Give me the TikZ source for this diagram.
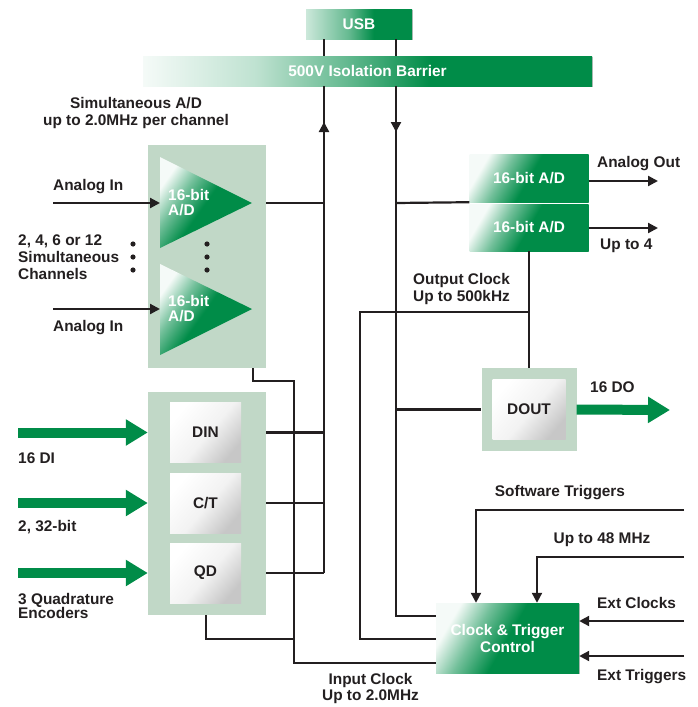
\documentclass[tikz,border=0pt]{standalone}
\usepackage{fontspec}
\setmainfont{Liberation Sans}
\usetikzlibrary{arrows.meta,shadows}
\definecolor{gg}{RGB}{0,140,72}
\definecolor{panel}{RGB}{193,216,199}
\definecolor{ink}{RGB}{35,31,32}
\colorlet{gA}{gg!4!white}
\colorlet{gB}{gg!55!white}
\colorlet{gC}{gg!25!white}
\colorlet{gD}{gg!60!white}
\colorlet{gU}{gg!20!white}
\colorlet{wA}{white}
\colorlet{wB}{white!95!black}
\colorlet{wC}{white!78!black}
\pgfdeclarehorizontalshading{gsh}{100bp}{color(0bp)=(gA); color(25bp)=(gA); color(37bp)=(gB); color(50bp)=(gg); color(100bp)=(gg)}
\pgfdeclarehorizontalshading{gbar}{100bp}{color(0bp)=(gA); color(25bp)=(gA); color(37.5bp)=(gC); color(47.5bp)=(gD); color(57bp)=(gg); color(100bp)=(gg)}
\pgfdeclarehorizontalshading{gusb}{100bp}{color(0bp)=(gU); color(25bp)=(gU); color(45bp)=(gD); color(57bp)=(gg); color(100bp)=(gg)}
\pgfdeclarehorizontalshading{wsh}{100bp}{color(0bp)=(wA); color(25bp)=(wA); color(52bp)=(wB); color(75bp)=(wC); color(100bp)=(wC)}
\tikzset{
  lbl/.style={font=\fontsize{15.4}{17}\selectfont\bfseries, text=ink, inner sep=0pt, align=left},
  wlbl/.style={font=\fontsize{15.4}{17}\selectfont\bfseries, text=white, inner sep=0pt, align=center},
  gbox/.style={shading=gsh, shading angle=-30, draw=none, inner sep=0pt,
    font=\fontsize{15.4}{17}\selectfont\bfseries, text=white, align=center,
    drop shadow={shadow xshift=0.8pt, shadow yshift=-1.3pt, fill=black, opacity=0.25}},
  gtri/.style={shading=gsh, shading angle=-35, draw=none},
  pbox/.style={fill=panel, draw=none, inner sep=0pt},
  wbox/.style={shading=wsh, shading angle=-40, draw=none, inner sep=0pt,
    font=\fontsize{15.4}{17}\selectfont\bfseries, text=ink},
  wire/.style={draw=ink, line width=2.2pt},
  arr/.style={draw=ink, line width=2.2pt, -{Triangle[length=10pt 0 0,width=10pt 0 0]}},
  fatarr/.style={draw=gg, line width=10pt, -{Triangle[length=22pt 0 0,width=25pt 0 0]}},
  dot/.style={fill=ink}
}
\begin{document}
\begin{tikzpicture}[x=1pt,y=-1pt]
\useasboundingbox (0,0) rectangle (698,707);

% ---------- blocks ----------
\node[gbox, shading=gusb, shading angle=0, minimum width=106pt, minimum height=30pt] (usb) at (359,24) {USB};
\node[gbox, shading=gbar, shading angle=0, minimum width=449pt, minimum height=30pt] (bar) at (367.5,71) {500V Isolation Barrier};

\node[pbox, minimum width=118pt, minimum height=223pt] (adp) at (207,256.5) {};
\node[pbox, minimum width=118pt, minimum height=223pt] (dip) at (207,503.5) {};

\path[gtri] (160,157) -- (160,248) -- (252,203) -- cycle;
\path[gtri] (160,264) -- (160,355) -- (252,309) -- cycle;
\node[wlbl, align=left, font=\fontsize{15.4}{15}\selectfont\bfseries, anchor=west] (ad1) at (168,203) {16-bit\\A/D};
\node[wlbl, align=left, font=\fontsize{15.4}{15}\selectfont\bfseries, anchor=west] (ad2) at (168,309) {16-bit\\A/D};

\node[wbox, minimum width=71pt, minimum height=60pt] (din) at (205.5,432.5) {DIN};
\node[wbox, minimum width=71pt, minimum height=60pt] (cnt) at (205.5,503) {C/T};
\node[wbox, minimum width=71pt, minimum height=60pt] (qd) at (205.5,573) {QD};

\node[gbox, minimum width=119pt, minimum height=48pt] (da1) at (529,178) {16-bit A/D};
\node[gbox, minimum width=119pt, minimum height=47pt] (da2) at (529,227.5) {16-bit A/D};

\node[pbox, minimum width=95pt, minimum height=83pt] (doutp) at (529,409.5) {};
\node[wbox, minimum width=73pt, minimum height=60pt] (dout) at (529,409) {DOUT};

\node[gbox, minimum width=143pt, minimum height=70pt] (ctl) at (507.5,638) {Clock \& Trigger\\Control};

% ---------- helper coordinates ----------
\coordinate (xu) at (324,0);
\coordinate (xd) at (396,0);
\coordinate (xc) at (294,0);
\coordinate (xo) at (360,0);
\coordinate (xe) at (253,0);
\coordinate (xf) at (206,0);
\coordinate (yad) at (0,203);
\coordinate (ydn) at (0,616);
\coordinate (yoc) at (0,312);
\coordinate (yo2) at (0,639);
\coordinate (yic1) at (0,381);
\coordinate (yic2) at (0,663);
\coordinate (uarr) at (324,122);
\coordinate (darr) at (396,132);
\coordinate (ai1) at (53,203);
\coordinate (ai2) at (53,309);
\coordinate (t1) at (160,203);
\coordinate (t2) at (160,309);
\coordinate (ao1) at (658,181);
\coordinate (ao2) at (658,228);
\coordinate (do1) at (670,410);
\coordinate (di1) at (18,432.5);
\coordinate (di2) at (18,503);
\coordinate (di3) at (18,573);
\coordinate (sw) at (684,510);
\coordinate (sw2) at (476,510);
\coordinate (mz) at (684,557);
\coordinate (mz2) at (537,557);
\coordinate (ec) at (684,621);
\coordinate (et) at (684,656);

% ---------- wires ----------
\draw[wire] (usb.south -| xu) -- (bar.north -| xu);
\draw[wire] (usb.south -| xd) -- (bar.north -| xd);

\draw[wire] (xu |- qd) -- (xu |- bar.south);
\draw[arr] (xu |- adp.north) -- (uarr);
\draw[wire] (xd |- bar.south) -- (xd |- ydn) -- (ctl.west |- ydn);
\draw[arr] (xd |- bar.south) -- (darr);

\draw[wire] (adp.east |- yad) -- (xu |- yad);
\draw[wire] (xd |- yad) -- (da1.south west);
\draw[wire] (xd |- doutp) -- (doutp.west);
\draw[wire] (da2.south) -- (doutp.north);
\draw[wire] (da2.south |- yoc) -- (xo |- yoc) -- (xo |- yo2) -- (ctl.west |- yo2);

\draw[wire] (adp.south -| xe) -- (xe |- yic1) -- (xc |- yic1) -- (xc |- yic2) -- (ctl.west |- yic2);
\draw[wire] (dip.south -| xf) -- (xf |- yo2) -- (xc |- yo2);

\draw[wire] (dip.east |- din) -- (xu |- din);
\draw[wire] (dip.east |- cnt) -- (xu |- cnt);
\draw[wire] (dip.east |- qd) -- (xu |- qd);

\draw[arr] (ai1) -- (t1);
\draw[arr] (ai2) -- (t2);
\draw[arr] (da1.east |- ao1) -- (ao1);
\draw[arr] (da2.east |- ao2) -- (ao2);

\draw[fatarr] (doutp.east) -- (do1);
\draw[fatarr] (di1) -- (dip.west |- din);
\draw[fatarr] (di2) -- (dip.west |- cnt);
\draw[fatarr] (di3) -- (dip.west |- qd);

\draw[arr] (sw) -- (sw2) -- (sw2 |- ctl.north);
\draw[arr] (mz) -- (mz2) -- (mz2 |- ctl.north);
\draw[arr] (ec) -- (ctl.east |- ec);
\draw[arr] (et) -- (ctl.east |- et);

% ---------- dots ----------
\fill[dot] (133,244) circle (2.6pt);
\fill[dot] (133,257) circle (2.6pt);
\fill[dot] (133,270) circle (2.6pt);
\fill[dot] (207,244) circle (2.6pt);
\fill[dot] (207,257) circle (2.6pt);
\fill[dot] (207,270) circle (2.6pt);

% ---------- labels ----------
\node[lbl, align=center] (l1) at (136,113.5) {Simultaneous A/D\\up to 2.0MHz per channel};
\node[lbl, anchor=west] (l2) at (53,187) {Analog In};
\node[lbl, anchor=west] (l3) at (53,328) {Analog In};
\node[lbl, anchor=west] (l4) at (18,257) {2, 4, 6 or 12\\Simultaneous\\Channels};
\node[lbl, anchor=west] (l5) at (597,164) {Analog Out};
\node[lbl, anchor=west] (l6) at (600,246) {Up to 4};
\node[lbl, align=center] (l7) at (461.5,289) {Output Clock\\Up to 500kHz};
\node[lbl, anchor=west] (l8) at (590,387) {16 DO};
\node[lbl, anchor=west] (l9) at (18,458) {16 DI};
\node[lbl, anchor=west] (l10) at (18,527) {2, 32-bit};
\node[lbl, anchor=west, font=\fontsize{15.4}{14.5}\selectfont\bfseries] (l11) at (18,606) {3 Quadrature\\Encoders};
\node[lbl] (l12) at (560,493) {Software Triggers};
\node[lbl] (l13) at (602,540) {Up to 48 MHz};
\node[lbl, anchor=west] (l14) at (597,603) {Ext Clocks};
\node[lbl, anchor=west] (l15) at (597,677) {Ext Triggers};
\node[lbl, align=center, font=\fontsize{15.4}{16}\selectfont\bfseries] (l16) at (370.5,689) {Input Clock\\Up to 2.0MHz};
\end{tikzpicture}
\end{document}
